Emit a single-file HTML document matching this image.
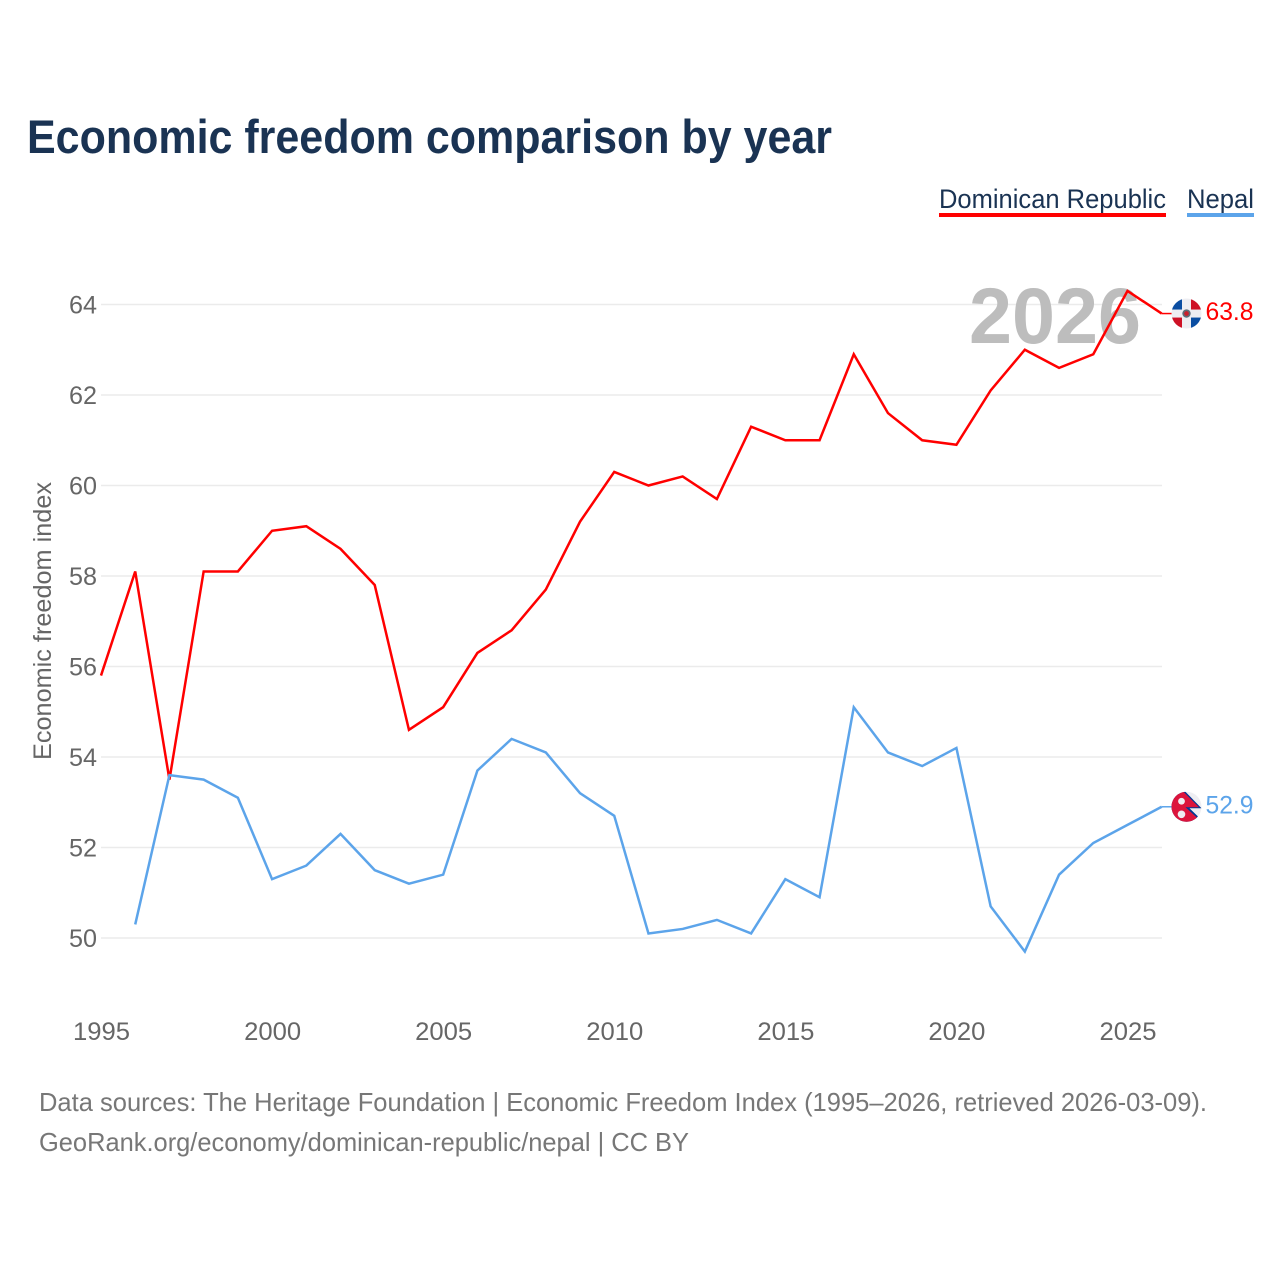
<!DOCTYPE html>
<html lang="en">
<head>
<meta charset="utf-8">
<title>Economic freedom comparison by year</title>
<style>
html,body{margin:0;padding:0;background:#fff;width:1280px;height:1280px;overflow:hidden}
svg{display:block}
text{font-family:"Liberation Sans",sans-serif}
</style>
</head>
<body>
<svg id="chart" xmlns="http://www.w3.org/2000/svg" width="1280" height="1280" viewBox="0 0 1280 1280">
  <defs>
    <clipPath id="dr-clip"><circle cx="0" cy="0" r="15"/></clipPath>
    <clipPath id="np-clip"><circle cx="0" cy="0" r="15"/></clipPath>
  </defs>
  <rect x="0" y="0" width="1280" height="1280" fill="#fff"/>
  <text x="27" y="153" font-size="47" font-weight="700" fill="#1a3353" textLength="805" lengthAdjust="spacingAndGlyphs">Economic freedom comparison by year</text>

  <g>
    <g>
      <text x="939" y="208" font-size="27" fill="#1a3353" textLength="227" lengthAdjust="spacingAndGlyphs">Dominican Republic</text>
      <rect x="939" y="213" width="227" height="4" fill="#ff0000"/>
    </g>
    <g>
      <text x="1187" y="208" font-size="27" fill="#1a3353" textLength="67" lengthAdjust="spacingAndGlyphs">Nepal</text>
      <rect x="1187" y="213" width="67" height="4" fill="#5ca4ea"/>
    </g>
  </g>

  <g id="grid"></g>
  <text x="969" y="343" font-size="79" font-weight="700" fill="#bdbdbd" textLength="172" lengthAdjust="spacingAndGlyphs">2026</text>
  <g id="y-ticks"></g>
  <g id="x-ticks"></g>
  <text transform="translate(51 621) rotate(-90)" text-anchor="middle" font-size="25" fill="#666" textLength="278" lengthAdjust="spacingAndGlyphs">Economic freedom index</text>

  <g id="series"></g>

  <g id="flag-dr">
    <g clip-path="url(#dr-clip)">
      <rect x="-15" y="-15" width="30" height="30" fill="#eeeef2"/>
      <rect x="-15" y="-15" width="10.5" height="11" fill="#0b4ea2"/>
      <rect x="4.5" y="-15" width="10.5" height="11" fill="#ce1126"/>
      <rect x="-15" y="4" width="10.5" height="11" fill="#ce1126"/>
      <rect x="4.5" y="4" width="10.5" height="11" fill="#0b4ea2"/>
      <circle cx="0" cy="0" r="4.2" fill="#5e6d78"/>
      <circle cx="0" cy="0" r="2.4" fill="#c8202c"/>
    </g>
  </g>
  <g id="flag-np">
    <g clip-path="url(#np-clip)">
      <rect x="-15" y="-15" width="30" height="30" fill="#eeeef2"/>
      <polygon points="-15,-16 -2,-16 15,1.5 3,1.5 16,14 16,16 -15,16" fill="#003893"/>
      <polygon points="-15,-16 -4,-16 12.5,0.5 -1,0.5 15,15 15,16 -15,16" fill="#dc143c"/>
      <circle cx="-5" cy="-5.5" r="3.4" fill="#eeeef2"/>
      <circle cx="-5" cy="7.5" r="3.8" fill="#eeeef2"/>
    </g>
  </g>
  <text id="value-dr" x="1253.5" font-size="25" fill="#ff0000" text-anchor="end" textLength="48" lengthAdjust="spacingAndGlyphs"></text>
  <text id="value-np" x="1253.5" font-size="25" fill="#5ca4ea" text-anchor="end" textLength="48" lengthAdjust="spacingAndGlyphs"></text>

  <g>
    <text x="39" y="1111" font-size="26" fill="#777" textLength="1168" lengthAdjust="spacingAndGlyphs">Data sources: The Heritage Foundation | Economic Freedom Index (1995–2026, retrieved 2026-03-09).</text>
    <text x="39" y="1151" font-size="26" fill="#777" textLength="650" lengthAdjust="spacingAndGlyphs">GeoRank.org/economy/dominican-republic/nepal | CC BY</text>
  </g>
</svg>
<script>
const years = [1995,1996,1997,1998,1999,2000,2001,2002,2003,2004,2005,2006,2007,2008,2009,2010,2011,2012,2013,2014,2015,2016,2017,2018,2019,2020,2021,2022,2023,2024,2025,2026];
const dominicanValues = [55.8,58.1,53.5,58.1,58.1,59.0,59.1,58.6,57.8,54.6,55.1,56.3,56.8,57.7,59.2,60.3,60.0,60.2,59.7,61.3,61.0,61.0,62.9,61.6,61.0,60.9,62.1,63.0,62.6,62.9,64.3,63.8];
const nepalValues = [null,50.3,53.6,53.5,53.1,51.3,51.6,52.3,51.5,51.2,51.4,53.7,54.4,54.1,53.2,52.7,50.1,50.2,50.4,50.1,51.3,50.9,55.1,54.1,53.8,54.2,50.7,49.7,51.4,52.1,52.5,52.9];
const yTickValues = [50,52,54,56,58,60,62,64];
const xTickValues = [1995,2000,2005,2010,2015,2020,2025];

const NS = 'http://www.w3.org/2000/svg';
const xScale = function (yr) { return 101 + (yr - 1995) * (1127.5 - 101) / 30; };
const yScale = function (v) { return 938 - (v - 50) * (938 - 304.5) / 14; };

function make(tag, attrs, parent) {
  const el = document.createElementNS(NS, tag);
  for (const k in attrs) el.setAttribute(k, attrs[k]);
  parent.appendChild(el);
  return el;
}

const gridGroup = document.getElementById('grid');
const yGroup = document.getElementById('y-ticks');
yTickValues.forEach(function (v) {
  const line = make('line', {x1: 101, x2: 1162, y1: yScale(v), y2: yScale(v), stroke: '#ebebeb', 'stroke-width': 1.5}, gridGroup);
  
  
  const label = make('text', {x: 97, y: yScale(v) + 9, 'text-anchor': 'end', 'font-size': 25, fill: '#666', textLength: 28, lengthAdjust: 'spacingAndGlyphs'}, yGroup);
  label.textContent = v;
  
  
});

const xGroup = document.getElementById('x-ticks');
xTickValues.forEach(function (yr) {
  const label = make('text', {x: xScale(yr) + 0.5, y: 1040, 'text-anchor': 'middle', 'font-size': 25, fill: '#666', textLength: 57, lengthAdjust: 'spacingAndGlyphs'}, xGroup);
  label.textContent = yr;
  
  
});

function drawSeries(values, color, name) {
  const pts = [];
  values.forEach(function (v, i) {
    if (v !== null) pts.push(xScale(years[i]).toFixed(2) + ',' + yScale(v).toFixed(2));
  });
  const last = values[values.length - 1];
  const lastX = xScale(years[years.length - 1]);
  const group = document.getElementById('series');
  const poly = make('polyline', {points: pts.join(' '), fill: 'none', stroke: color, 'stroke-width': 2.5, 'stroke-linejoin': 'miter'}, group);
  
  
  const stub = make('line', {x1: lastX, x2: lastX + 12, y1: yScale(last), y2: yScale(last), stroke: color, 'stroke-width': 1.5}, group);
  
  
}
drawSeries(dominicanValues, '#ff0000', 'dominican-republic');
drawSeries(nepalValues, '#5ca4ea', 'nepal');

function placeEnd(values, flagId, valueId) {
  const last = values[values.length - 1];
  const y = yScale(last);
  document.getElementById(flagId).setAttribute('transform', 'translate(1186.5 ' + y + ')');
  const t = document.getElementById(valueId);
  t.setAttribute('y', y + 6.5);
  t.textContent = last.toFixed(1);
}
placeEnd(dominicanValues, 'flag-dr', 'value-dr');
placeEnd(nepalValues, 'flag-np', 'value-np');
</script>
</body>
</html>
